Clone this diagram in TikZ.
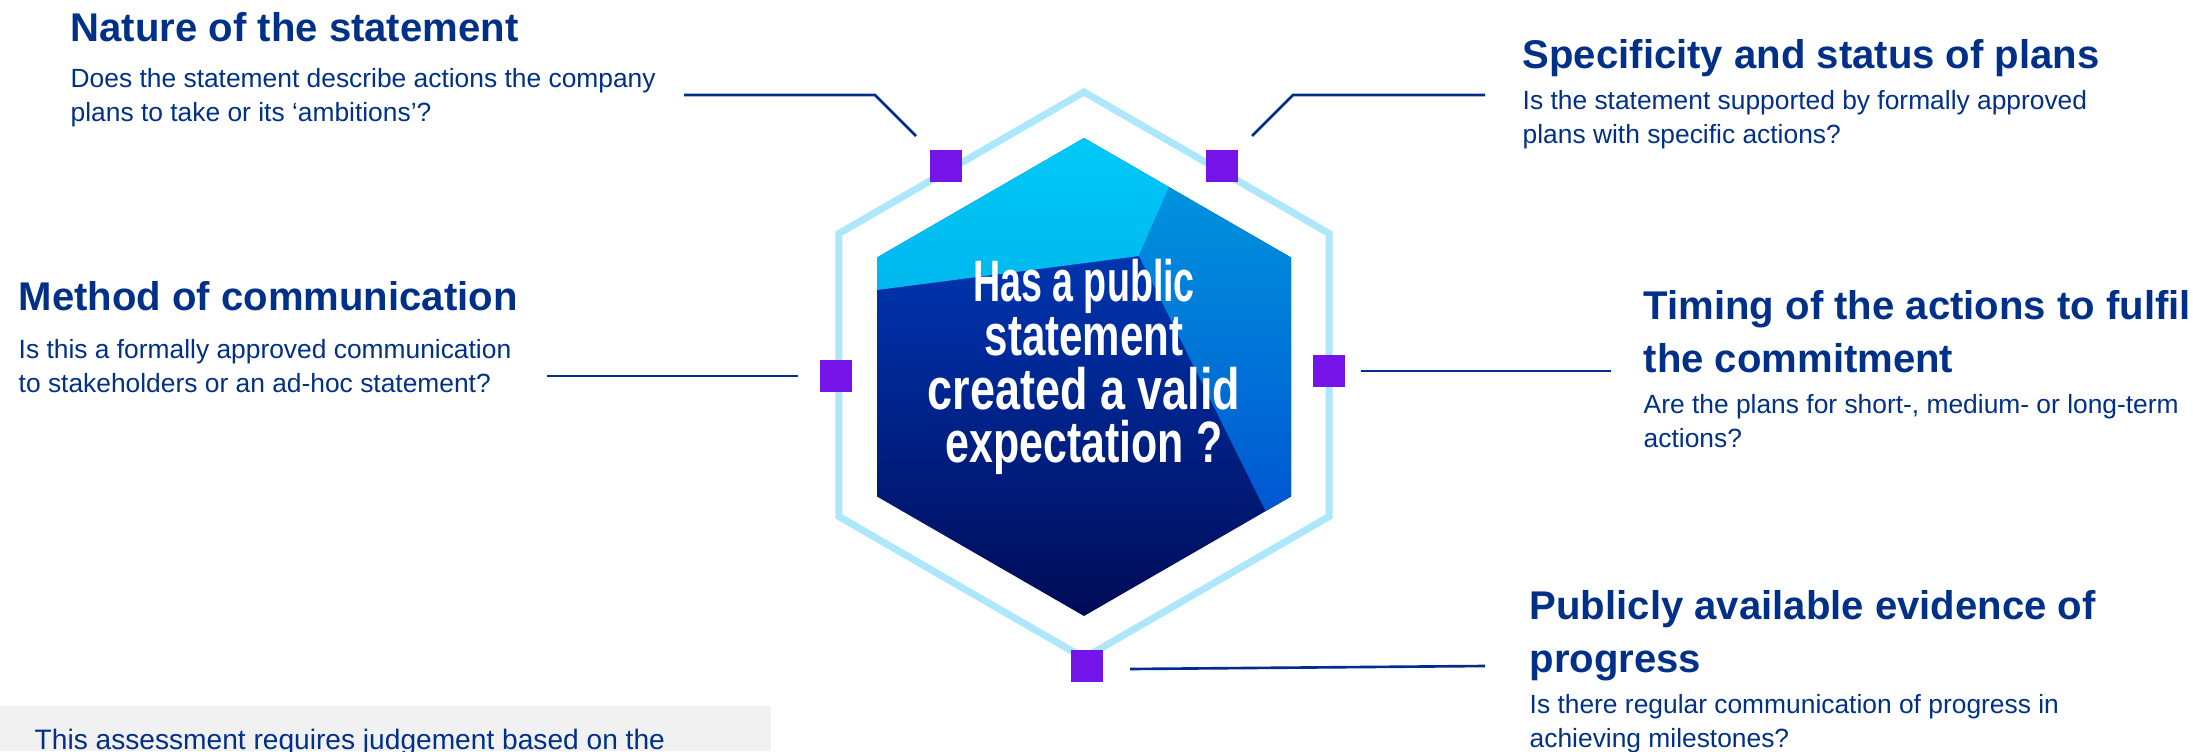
\documentclass[tikz,border=0pt]{standalone}
\usepackage{fontspec}
\setmainfont{Liberation Sans}
\usepackage{graphicx}
\usetikzlibrary{positioning}

\definecolor{navytext}{RGB}{0,48,135}
\definecolor{linkblue}{RGB}{0,45,140}
\definecolor{sqviolet}{RGB}{117,20,232}
\definecolor{ringblue}{RGB}{172,231,251}
\definecolor{boxgrey}{RGB}{241,241,241}
\definecolor{cyantop}{RGB}{0,202,248}
\definecolor{cyanbot}{RGB}{0,184,238}
\definecolor{midtop}{RGB}{0,150,222}
\definecolor{midbot}{RGB}{0,82,208}
\definecolor{deeptop}{RGB}{0,68,208}
\definecolor{deepmid}{RGB}{0,44,172}
\definecolor{deepbot}{RGB}{0,10,85}

\newcommand\headfont{\fontsize{11.4}{15}\selectfont\bfseries}
\newcommand\bodyfont{\fontsize{7.5}{9.7}\selectfont}
\newcommand\notefont{\fontsize{8}{10}\selectfont}
\newcommand\askfont{\fontsize{16.6}{15.3}\selectfont\bfseries\lineskiplimit=-20pt}
\newcommand\squeeze[2][0.67]{\scalebox{#1}[1]{#2}}

\tikzset{
  %headline of each criterion
  crit/.style={
    anchor=north west,
    inner sep=0pt,
    text=navytext,
    font=\headfont,
    align=left},
  %explanation under the headline
  expl/.style={
    inner sep=0pt,
    text=navytext,
    font=\bodyfont,
    align=left},
  %purple squares on the ring
  hexdot/.style={
    rectangle,
    fill=sqviolet,
    minimum size=0.32cm,
    inner sep=0pt},
  %hexagon ring
  ring/.style={
    draw=ringblue,
    line width=2pt},
  %lines to the texts
  link/.style={
    draw=linkblue,
    line width=0.75pt}
}

\begin{document}
\begin{tikzpicture}[x=0.01cm, y=-0.01cm]
\useasboundingbox (0,0) rectangle (2193,751);
\clip (0,0) rectangle (2193,751);

%note box
\fill[boxgrey] (0,706) rectangle (771,751);
\node[expl, anchor=north west, font=\notefont] (note) at (34,728)
     {This assessment requires judgement based on the};

%outer ring
\draw[ring] (1084,92) -- (1329.1,233.5) -- (1329.1,516.5) -- (1084,658)
  -- (838.9,516.5) -- (838.9,233.5) -- cycle;

%inner hexagon
\begin{scope}
\clip (1084,138) -- (1291,257.5) -- (1291,496.5) -- (1084,616)
  -- (877,496.5) -- (877,257.5) -- cycle;
\shade[top color=deeptop, middle color=deepmid, bottom color=deepbot]
  (870,130) rectangle (1300,625);
\shade[top color=cyantop, bottom color=cyanbot]
  (1084,125) -- (860,250) -- (860,292.2) -- (1139,256) -- (1176.4,170) -- cycle;
\shade[top color=midtop, bottom color=midbot]
  (1176.4,170) -- (1310,170) -- (1310,540) -- (1279.9,540) -- (1139,256) -- cycle;
\end{scope}

\node[align=center, text=white, font=\askfont, inner sep=0pt] (question) at (1084,367)
     {\squeeze[0.645]{Has a public}\\\squeeze[0.72]{statement}\\
      \squeeze[0.77]{created a valid}\\\squeeze[0.735]{expectation ?}};

%squares
\node[hexdot] (sqNature) at (946,166) {};
\node[hexdot] (sqSpec) at (1222,166) {};
\node[hexdot] (sqMethod) at (836,376) {};
\node[hexdot] (sqTiming) at (1329,371) {};
\node[hexdot] (sqProgress) at (1087,666) {};

%texts
\node[crit] (nature) at (70,12) {Nature of the statement};
\node[expl, below right=0.25cm and 0cm of nature.south west] (natureTxt)
     {Does the statement describe actions the company\\plans to take or its ‘ambitions’?};

\node[crit] (spec) at (1522,39) {Specificity and status of plans};
\node[expl, below right=0.12cm and 0cm of spec.south west] (specTxt)
     {Is the statement supported by formally approved\\plans with specific actions?};

\node[crit] (method) at (18,281) {Method of communication};
\node[expl, below right=0.265cm and 0cm of method.south west] (methodTxt)
     {Is this a formally approved communication\\to stakeholders or an ad-hoc statement?};

\node[crit] (timing) at (1643,290) {Timing of the actions to fulfil\\the commitment};
\node[expl, below right=0.2cm and 0cm of timing.south west] (timingTxt)
     {Are the plans for short-, medium- or long-term\\actions?};

\node[crit] (progress) at (1529,590) {Publicly available evidence of\\progress};
\node[expl, below right=0.12cm and 0cm of progress.south west] (progressTxt)
     {Is there regular communication of progress in\\achieving milestones?};

%connectors
\coordinate (natureA) at (684,95);
\coordinate (natureB) at (875,95);
\coordinate (natureC) at (916,136);
\coordinate (specA) at (1252,136);
\coordinate (specB) at (1293,95);
\coordinate (specC) at (1485,95);
\coordinate (methodA) at (547,376);
\coordinate (methodB) at (798,376);
\coordinate (timingA) at (1361,371);
\coordinate (timingB) at (1611,371);
\coordinate (progressA) at (1130,669);
\coordinate (progressB) at (1485,666);

\draw[link] (natureA) -- (natureB) -- (natureC);
\draw[link] (specA) -- (specB) -- (specC);
\draw[link] (methodA) -- (methodB);
\draw[link] (timingA) -- (timingB);
\draw[link] (progressA) -- (progressB);

\end{tikzpicture}
\end{document}
